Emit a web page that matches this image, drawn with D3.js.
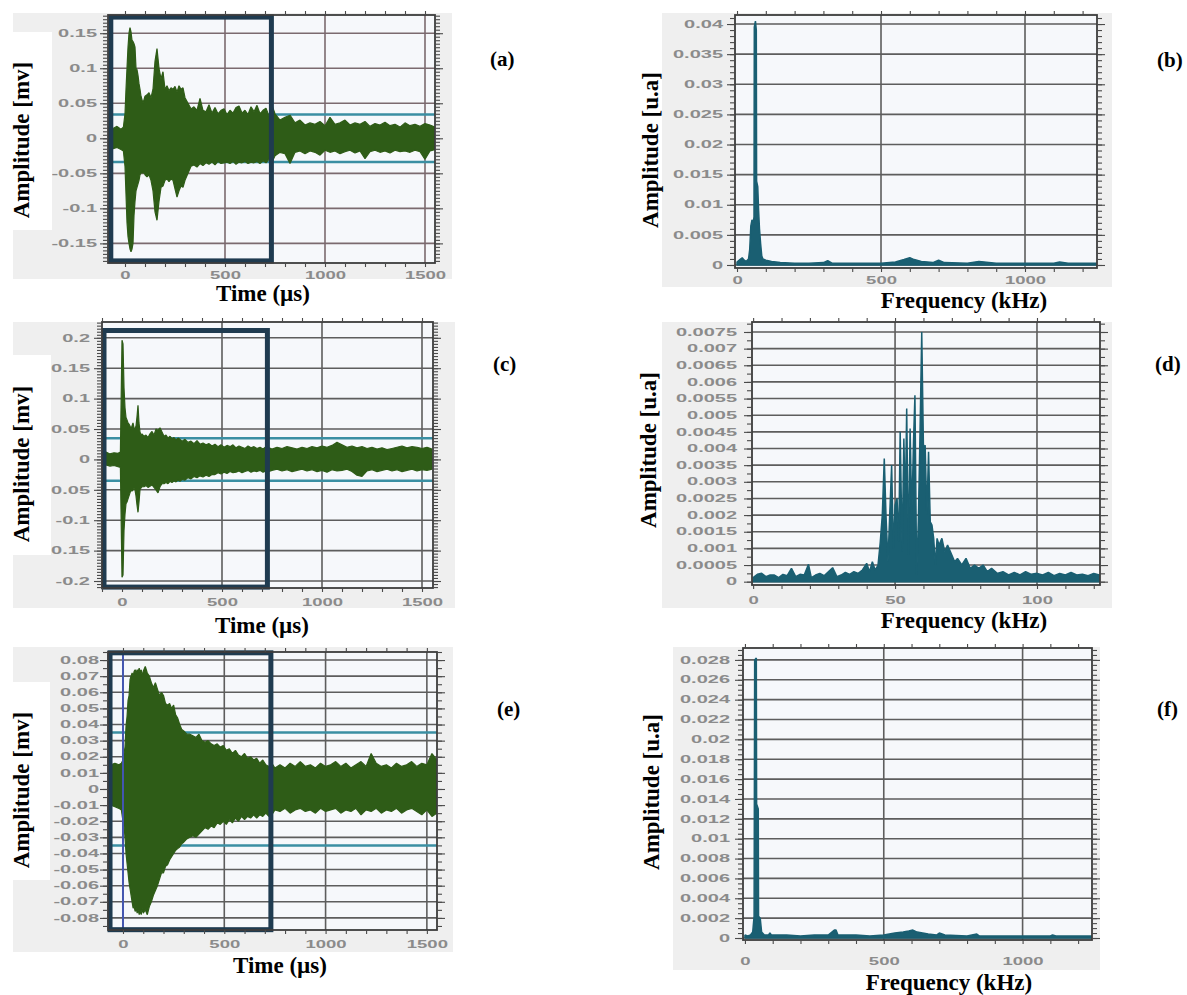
<!DOCTYPE html>
<html>
<head>
<meta charset="utf-8">
<script src="https://cdn.jsdelivr.net/npm/d3@7"></script>
<style>
  html, body { margin: 0; padding: 0; background: #fff; }
  svg { display: block; }
  .title, .tag { font-family: "Liberation Serif", "Times New Roman", serif; font-weight: bold; fill: #000; }
</style>
</head>
<body>
<svg id="fig" width="1187" height="995"></svg>
<script>
// ---- time axis shared by the three waveforms (µs)
const timeUs = [
  -100, -80, -60, -40, -20, -8, 0,
  5, 10, 15, 20, 25, 30, 35, 40, 45, 50,
  55, 60, 65, 70, 75, 80, 85, 90, 95, 100,
  110, 120, 130, 140, 150, 160, 170, 180, 190, 200,
  210, 220, 230, 240, 250, 260, 270, 280, 290, 300,
  315, 330, 345, 360, 375, 390, 405, 420, 435, 450,
  465, 480, 495, 510, 525, 540, 555, 570, 585, 600,
  615, 630, 645, 660, 675, 690, 705, 720, 735,
  750, 775, 800, 825, 850, 875, 900, 925, 950, 975, 1000,
  1025, 1050, 1075, 1100, 1125, 1150, 1175, 1200, 1225, 1250, 1275,
  1300, 1325, 1350, 1375, 1400, 1425, 1450, 1475, 1500, 1525, 1550
];

// (a) waveform envelope, mV
const sigAHigh = [
  0.015, 0.016, 0.014, 0.017, 0.013, 0.016, 0.035,
  0.07, 0.1, 0.13, 0.15, 0.158, 0.152, 0.14, 0.138, 0.135, 0.13,
  0.1, 0.098, 0.09, 0.078, 0.07, 0.06, 0.055, 0.05, 0.055, 0.06,
  0.062, 0.065, 0.058, 0.07, 0.11, 0.128, 0.1, 0.085, 0.095, 0.07,
  0.075, 0.068, 0.072, 0.07, 0.074, 0.066, 0.075, 0.07, 0.072, 0.058,
  0.05, 0.042, 0.045, 0.04, 0.057, 0.04, 0.038, 0.048, 0.036, 0.044,
  0.035, 0.04, 0.042, 0.034, 0.04, 0.036, 0.044, 0.046, 0.036, 0.04,
  0.034, 0.045, 0.038, 0.047, 0.035, 0.04, 0.043, 0.032, 0.047,
  0.035, 0.026, 0.03, 0.033, 0.022, 0.026, 0.019, 0.022, 0.02, 0.024, 0.018,
  0.03, 0.02, 0.022, 0.026, 0.019, 0.022, 0.02, 0.024, 0.017, 0.021, 0.019,
  0.023, 0.018, 0.02, 0.016, 0.022, 0.018, 0.02, 0.017, 0.021, 0.019, 0.016
];
const sigALow = [
  -0.012, -0.014, -0.015, -0.013, -0.016, -0.018, -0.04,
  -0.08, -0.12, -0.14, -0.15, -0.158, -0.162, -0.158, -0.15, -0.11, -0.09,
  -0.075, -0.07, -0.065, -0.06, -0.052, -0.05, -0.048, -0.05, -0.048, -0.052,
  -0.055, -0.052, -0.06, -0.075, -0.105, -0.117, -0.09, -0.07, -0.068, -0.06,
  -0.058, -0.062, -0.058, -0.06, -0.072, -0.084, -0.075, -0.068, -0.07, -0.06,
  -0.05, -0.04, -0.038, -0.041, -0.036, -0.039, -0.035, -0.037, -0.034, -0.038,
  -0.033, -0.036, -0.035, -0.034, -0.036, -0.033, -0.037, -0.034, -0.035, -0.033,
  -0.036, -0.034, -0.035, -0.033, -0.036, -0.032, -0.035, -0.03, -0.034,
  -0.025, -0.02, -0.022, -0.036, -0.02, -0.018, -0.022, -0.018, -0.02, -0.024, -0.017,
  -0.02, -0.018, -0.022, -0.019, -0.017, -0.021, -0.018, -0.029, -0.019, -0.017, -0.02,
  -0.018, -0.021, -0.017, -0.019, -0.018, -0.02, -0.017, -0.019, -0.03, -0.018, -0.016
];

// (c) waveform envelope, mV
const sigCHigh = [
  0.01, 0.012, 0.009, 0.011, 0.01, 0.012, 0.196,
  0.19, 0.118, 0.085, 0.069, 0.065, 0.06, 0.058, 0.055, 0.05, 0.055,
  0.06, 0.052, 0.05, 0.055, 0.07, 0.089, 0.06, 0.045, 0.04, 0.042,
  0.038, 0.04, 0.036, 0.042, 0.046, 0.04, 0.05, 0.048, 0.052, 0.045,
  0.038, 0.04, 0.035, 0.038, 0.034, 0.036, 0.032, 0.035, 0.033, 0.03,
  0.033, 0.028, 0.03, 0.026, 0.031, 0.025, 0.027, 0.024, 0.026, 0.022,
  0.025, 0.021, 0.024, 0.02, 0.023, 0.021, 0.024, 0.019, 0.022, 0.02,
  0.018, 0.022, 0.019, 0.021, 0.018, 0.02, 0.017, 0.021, 0.019,
  0.017, 0.02, 0.018, 0.021, 0.019, 0.017, 0.02, 0.018, 0.021, 0.019, 0.022,
  0.02, 0.023, 0.028, 0.024, 0.02, 0.022, 0.019, 0.021, 0.018, 0.02, 0.017,
  0.019, 0.016, 0.018, 0.02, 0.022, 0.019, 0.021, 0.02, 0.018, 0.02, 0.017
];
const sigCLow = [
  -0.01, -0.009, -0.011, -0.01, -0.012, -0.013, -0.194,
  -0.19, -0.117, -0.09, -0.073, -0.07, -0.065, -0.06, -0.055, -0.05, -0.052,
  -0.05, -0.048, -0.05, -0.06, -0.075, -0.087, -0.07, -0.05, -0.047, -0.045,
  -0.045, -0.043, -0.046, -0.044, -0.042, -0.046, -0.05, -0.055, -0.045, -0.04,
  -0.04, -0.038, -0.04, -0.036, -0.038, -0.035, -0.037, -0.034, -0.036, -0.033,
  -0.034, -0.03, -0.032, -0.028, -0.03, -0.027, -0.029, -0.026, -0.028, -0.025,
  -0.025, -0.022, -0.024, -0.021, -0.023, -0.02, -0.022, -0.021, -0.019, -0.022,
  -0.02, -0.018, -0.021, -0.019, -0.02, -0.018, -0.021, -0.019, -0.02,
  -0.018, -0.016, -0.019, -0.017, -0.02, -0.018, -0.016, -0.019, -0.017, -0.02, -0.018,
  -0.021, -0.017, -0.019, -0.018, -0.016, -0.02, -0.026, -0.028, -0.019, -0.017, -0.02,
  -0.018, -0.016, -0.019, -0.017, -0.02, -0.018, -0.016, -0.019, -0.017, -0.018, -0.016
];

// (e) waveform envelope, mV
const sigEHigh = [
  0.015, 0.016, 0.015, 0.016, 0.015, 0.016, 0.018,
  0.022, 0.026, 0.039, 0.045, 0.055, 0.058, 0.068, 0.07, 0.072, 0.07,
  0.073, 0.074, 0.072, 0.074, 0.073, 0.075, 0.072, 0.074, 0.07, 0.073,
  0.076, 0.072, 0.07, 0.066, 0.063, 0.066, 0.062, 0.058, 0.06, 0.058,
  0.053, 0.052, 0.053, 0.05, 0.052, 0.046, 0.044, 0.04, 0.037, 0.036,
  0.034, 0.034, 0.033, 0.032, 0.034, 0.03, 0.029, 0.03, 0.028, 0.027,
  0.028, 0.026, 0.027, 0.024, 0.025, 0.022, 0.024, 0.021, 0.02, 0.022,
  0.019, 0.02, 0.018, 0.019, 0.016, 0.018, 0.015, 0.014, 0.016,
  0.013, 0.015, 0.013, 0.016, 0.014, 0.017, 0.014, 0.015, 0.013, 0.016, 0.014,
  0.015, 0.017, 0.014, 0.016, 0.013, 0.015, 0.017, 0.014, 0.022, 0.016, 0.014,
  0.015, 0.013, 0.016, 0.014, 0.015, 0.017, 0.014, 0.016, 0.015, 0.022, 0.018
];
const sigELow = [
  -0.011, -0.012, -0.01, -0.011, -0.012, -0.013, -0.02,
  -0.023, -0.03, -0.04, -0.046, -0.052, -0.058, -0.062, -0.066, -0.07, -0.074,
  -0.073, -0.076, -0.074, -0.077, -0.075, -0.078, -0.076, -0.078, -0.074, -0.077,
  -0.075, -0.078, -0.073, -0.07, -0.066, -0.063, -0.06, -0.056, -0.052, -0.052,
  -0.048, -0.047, -0.044, -0.042, -0.04, -0.038, -0.037, -0.036, -0.034, -0.033,
  -0.031, -0.03, -0.029, -0.03, -0.028, -0.026, -0.024, -0.025, -0.023, -0.024,
  -0.021, -0.022, -0.02, -0.022, -0.019, -0.021, -0.018, -0.02, -0.017, -0.019,
  -0.017, -0.018, -0.016, -0.018, -0.016, -0.017, -0.015, -0.017, -0.016,
  -0.013, -0.014, -0.012, -0.015, -0.013, -0.012, -0.014, -0.013, -0.015, -0.012, -0.014,
  -0.013, -0.012, -0.015, -0.013, -0.014, -0.012, -0.016, -0.013, -0.014, -0.012, -0.015,
  -0.013, -0.014, -0.012, -0.015, -0.013, -0.012, -0.014, -0.016, -0.013, -0.017, -0.015
];

// (b) spectrum
const freqB = [
  0, 10, 18, 25, 32, 40, 44, 48, 52, 56,
  59, 60, 64, 67, 68, 72, 75, 78, 82, 86,
  90, 100, 120, 150, 200, 250, 300, 315, 330, 400,
  450, 500, 550, 580, 600, 615, 640, 680, 700, 720,
  800, 840, 900, 1000, 1050, 1100, 1120, 1150, 1200, 1250
];
const ampB = [
  0.0005, 0.0009, 0.0012, 0.0008, 0.0006, 0.001, 0.0025, 0.0065, 0.0075, 0.0068,
  0.008, 0.0395, 0.0405, 0.039, 0.0139, 0.013, 0.009, 0.006, 0.0035, 0.0015,
  0.001, 0.0008, 0.0006, 0.0004, 0.0003, 0.0003, 0.0004, 0.0007, 0.0003, 0.0003,
  0.0003, 0.0003, 0.0005, 0.0009, 0.0012, 0.0009, 0.0006, 0.0004, 0.0008, 0.0004,
  0.0003, 0.0006, 0.0003, 0.0003, 0.0003, 0.0003, 0.0005, 0.0003, 0.0003, 0.0003
];

// (d) spectrum
const freqD = [
  0, 1.5, 3, 4.5, 6, 7.5, 9, 10.5, 12, 13.5,
  15, 16.5, 18, 19.5, 20.5, 22, 23.5, 25, 26.5, 28,
  29.5, 31, 32.5, 34, 35.5, 37, 38.5, 40, 41, 42,
  43, 44, 44.8, 45.5, 46.2, 46.8, 47.5, 48.2, 48.8, 49.4,
  50, 50.7, 51.3, 51.8, 52.5, 53.1, 53.6, 54.1, 54.7, 55.3,
  55.9, 56.5, 57, 57.6, 58.2, 58.8, 59.4, 60, 60.6, 61.2,
  61.8, 62.4, 63, 63.6, 64.2, 64.8, 65.5, 66.5, 67.5, 68.5,
  70, 71, 72, 73.5, 75, 76.5, 78, 79.5, 81, 82.5,
  84, 86, 88, 90, 92, 94, 96, 98, 100, 102,
  104, 106, 108, 110, 112, 114, 116, 118, 120, 122
];
const ampD = [
  0.00012, 0.00022, 0.00025, 0.00015, 0.0002, 0.0002, 0.00012, 0.00022, 0.00018, 0.0004,
  0.00015, 0.00022, 0.0002, 0.00052, 0.00012, 0.0002, 0.00025, 0.00018, 0.0003, 0.00042,
  0.00015, 0.0002, 0.00028, 0.00022, 0.0003, 0.00025, 0.00035, 0.00055, 0.0003, 0.0006,
  0.00035, 0.0005, 0.0012, 0.002, 0.0037, 0.002, 0.0006, 0.0022, 0.0035, 0.001,
  0.0023, 0.0025, 0.0012, 0.0045, 0.0009, 0.0043, 0.0022, 0.0052, 0.0008, 0.0046,
  0.002, 0.0042, 0.0056, 0.0002, 0.0018, 0.0045, 0.0075, 0.004, 0.0041, 0.002,
  0.0039, 0.0018, 0.0017, 0.0013, 0.0005, 0.0013, 0.0011, 0.0013, 0.0009, 0.0011,
  0.0008, 0.0006, 0.0007, 0.0005, 0.0007, 0.0004, 0.0005, 0.0004, 0.0005, 0.0003,
  0.0004, 0.00025, 0.0003, 0.0002, 0.00028, 0.0002, 0.0003, 0.00022, 0.00025, 0.0002,
  0.00028, 0.00018, 0.00025, 0.0002, 0.00028, 0.0002, 0.00022, 0.00018, 0.00025, 0.0002
];

// (f) spectrum
const freqF = [
  0, 10, 20, 28, 33, 35, 41, 42, 48, 49,
  55, 60, 70, 85, 90, 95, 120, 150, 200, 250,
  300, 322, 328, 335, 400, 450, 500, 540, 570, 590,
  605, 620, 640, 660, 690, 700, 720, 800, 835, 845,
  900, 1000, 1100, 1108, 1120, 1200, 1250
];
const ampF = [
  0.0003, 0.0002, 0.0003, 0.0006, 0.0022, 0.028, 0.0282, 0.0135, 0.013, 0.0022,
  0.002, 0.0006, 0.0003, 0.0003, 0.0005, 0.0003, 0.0003, 0.0003, 0.0002, 0.0003,
  0.0003, 0.0008, 0.0008, 0.0003, 0.0003, 0.0002, 0.0003, 0.0005, 0.0006, 0.0007,
  0.0008, 0.0006, 0.0005, 0.0004, 0.0003, 0.0005, 0.0003, 0.0002, 0.0004, 0.0002,
  0.0002, 0.0002, 0.0002, 0.0003, 0.0002, 0.0002, 0.0002
];

// tick labels
const timeTicks = [0, 500, 1000, 1500];
const freqTicks = [0, 500, 1000];
const freqTicksD = [0, 50, 100];
const ampTicksA = [-0.15, -0.1, -0.05, 0, 0.05, 0.1, 0.15];
const ampTicksC = [-0.2, -0.15, -0.1, -0.05, 0, 0.05, 0.1, 0.15, 0.2];
const ampTicksE = [-0.08, -0.07, -0.06, -0.05, -0.04, -0.03, -0.02, -0.01, 0,
  0.01, 0.02, 0.03, 0.04, 0.05, 0.06, 0.07, 0.08];
const ampTicksB = [0, 0.005, 0.01, 0.015, 0.02, 0.025, 0.03, 0.035, 0.04];
const ampTicksD = [0, 0.0005, 0.001, 0.0015, 0.002, 0.0025, 0.003, 0.0035, 0.004,
  0.0045, 0.005, 0.0055, 0.006, 0.0065, 0.007, 0.0075];
const ampTicksF = [0, 0.002, 0.004, 0.006, 0.008, 0.01, 0.012, 0.014, 0.016,
  0.018, 0.02, 0.022, 0.024, 0.026, 0.028];

const GREEN = '#2e5c17';
const TEAL = '#1a5f72';
const THRESH = '#3a8fa3';
const BOX = '#1f3b50';
const FRAME = '#3c3c3c';
const GRID = '#5d5d5d';

const svg = d3.select('#fig');

const panels = [
  { id: 'a', kind: 'time', hi: sigAHigh, lo: sigALow,
    left: 108, right: 435, top: 15, bottom: 263,
    xDom: [-85, 1550], yDom: [-0.178, 0.176],
    yTicks: ampTicksA, yMinorStep: 0.005, xTicks: timeTicks, xMinorStep: 100, vGrid: [500, 1000, 1500],
    box: [-71, 732, -0.175, 0.173], thresh: 0.034, grid: '#7b6a6f',
    bg: [13, 13, 439, 266], cover: [13, 32, 39, 198],
    yGap: 11, xLabelY: 279, yTitle: 'Amplitude [mv]', yTitlePos: [29, 140],
    xTitle: 'Time (µs)', xTitlePos: [263, 301], tag: '(a)', tagPos: [490, 66] },
  { id: 'b', kind: 'freq', f: freqB, a: ampB,
    left: 735, right: 1097, top: 15, bottom: 268,
    xDom: [-7, 1250], yDom: [-0.0005, 0.0415],
    yTicks: ampTicksB, yMinorStep: 0.001, xTicks: freqTicks, xMinorStep: 100, vGrid: [500, 1000],
    grid: GRID, bg: [662, 13, 450, 274],
    yGap: 12, xLabelY: 284, yTitle: 'Amplitude [u.a]', yTitlePos: [658, 150],
    xTitle: 'Frequency (kHz)', xTitlePos: [964, 308], tag: '(b)', tagPos: [1157, 67] },
  { id: 'c', kind: 'time', hi: sigCHigh, lo: sigCLow,
    left: 102, right: 433, top: 322, bottom: 588,
    xDom: [-100, 1555], yDom: [-0.2115, 0.226],
    yTicks: ampTicksC, yMinorStep: 0.005, xTicks: timeTicks, xMinorStep: 100, vGrid: [500, 1000, 1500],
    box: [-90, 727, -0.21, 0.212], thresh: 0.035, grid: GRID,
    bg: [13, 322, 442, 286], cover: [13, 355, 38, 200],
    yGap: 12, xLabelY: 606, yTitle: 'Amplitude [mv]', yTitlePos: [29, 464],
    xTitle: 'Time (µs)', xTitlePos: [262, 633], tag: '(c)', tagPos: [493, 371] },
  { id: 'd', kind: 'freq', f: freqD, a: ampD,
    left: 752, right: 1100, top: 322, bottom: 585,
    xDom: [-0.4, 122.2], yDom: [-0.0001, 0.0078],
    yTicks: ampTicksD, yMinorStep: 0.00025, xTicks: freqTicksD, xMinorStep: 10, vGrid: [50, 100],
    grid: GRID, bg: [662, 322, 450, 286],
    yGap: 15, xLabelY: 604, yTitle: 'Amplitude [u.a]', yTitlePos: [656, 450],
    xTitle: 'Frequency (kHz)', xTitlePos: [964, 628], tag: '(d)', tagPos: [1155, 371] },
  { id: 'e', kind: 'time', hi: sigEHigh, lo: sigELow,
    left: 108, right: 437, top: 652, bottom: 930,
    xDom: [-74, 1550], yDom: [-0.0875, 0.085],
    yTicks: ampTicksE, yMinorStep: 0.005, xTicks: timeTicks, xMinorStep: 100, vGrid: [500, 1000, 1500],
    box: [-64, 730, -0.0873, 0.0845], thresh: 0.035, marker: 0, grid: GRID,
    bg: [13, 647, 440, 305], cover: [13, 682, 37, 198],
    yGap: 9, xLabelY: 948, yTitle: 'Amplitude [mv]', yTitlePos: [29, 790],
    xTitle: 'Time (µs)', xTitlePos: [280, 973], tag: '(e)', tagPos: [497, 716] },
  { id: 'f', kind: 'freq', f: freqF, a: ampF,
    left: 743, right: 1092, top: 648, bottom: 940,
    xDom: [-7, 1250], yDom: [-0.0002, 0.0292],
    yTicks: ampTicksF, yMinorStep: 0.0005, xTicks: freqTicks, xMinorStep: 100, vGrid: [500, 1000],
    grid: GRID, bg: [673, 647, 427, 323],
    yGap: 13, xLabelY: 965, yTitle: 'Amplitude [u.a]', yTitlePos: [659, 792],
    xTitle: 'Frequency (kHz)', xTitlePos: [949, 990], tag: '(f)', tagPos: [1157, 716] }
];

panels.forEach(drawPanel);

function steps(dom, step) {
  const lo = Math.ceil(dom[0] / step - 1e-9), hi = Math.floor(dom[1] / step + 1e-9);
  return d3.range(lo, hi + 1).map(k => +(k * step).toFixed(6));
}

function addAxis(g, axis, tx, ty) {
  const a = g.append('g').attr('transform', `translate(${tx},${ty})`).call(axis);
  a.select('.domain').remove();
  a.selectAll('.tick line').attr('stroke', '#4a4a4a').attr('stroke-width', 1.1);
  a.selectAll('.tick text')
    .attr('fill', '#8b8b8b')
    .attr('font-family', '"Liberation Sans", Arial, sans-serif')
    .attr('font-weight', 'bold')
    .attr('font-size', 10);
  return a;
}

function drawPanel(p) {
  const x = d3.scaleLinear().domain(p.xDom).range([p.left, p.right]);
  const y = d3.scaleLinear().domain(p.yDom).range([p.bottom, p.top]);
  const w = p.right - p.left, h = p.bottom - p.top;
  const g = svg.append('g').attr('class', 'panel-' + p.id);

  // scanned figure backdrop + plot area
  g.append('rect').attr('x', p.bg[0]).attr('y', p.bg[1]).attr('width', p.bg[2]).attr('height', p.bg[3]).attr('fill', '#efefef');
  g.append('rect').attr('x', p.left).attr('y', p.top).attr('width', w).attr('height', h).attr('fill', '#f6f8fb');

  // grid
  g.append('g').selectAll('line').data(p.yTicks).join('line')
    .attr('x1', p.left).attr('x2', p.right)
    .attr('y1', d => y(d)).attr('y2', d => y(d))
    .attr('stroke', p.grid).attr('stroke-width', 1.6);
  g.append('g').selectAll('line').data(p.vGrid).join('line')
    .attr('x1', d => x(d)).attr('x2', d => x(d))
    .attr('y1', p.top).attr('y2', p.bottom)
    .attr('stroke', p.grid).attr('stroke-width', 1.6);

  svg.append('clipPath').attr('id', 'clip-' + p.id).append('rect')
    .attr('x', p.left).attr('y', p.top).attr('width', w).attr('height', h);
  const plot = g.append('g').attr('clip-path', `url(#clip-${p.id})`);

  if (p.thresh) {
    plot.append('g').selectAll('line').data([p.thresh, -p.thresh]).join('line')
      .attr('x1', p.left).attr('x2', p.right)
      .attr('y1', d => y(d)).attr('y2', d => y(d))
      .attr('stroke', THRESH).attr('stroke-width', 2.5);
  }

  if (p.kind === 'time') {
    const rows = timeUs.map((t, i) => ({ t: t, hi: p.hi[i], lo: p.lo[i] }));
    const area = d3.area().x(d => x(d.t)).y0(d => y(d.lo)).y1(d => y(d.hi));
    plot.append('path').datum(rows).attr('d', area)
      .attr('fill', GREEN).attr('stroke', GREEN).attr('stroke-width', 1.2).attr('stroke-linejoin', 'bevel');
  } else {
    const rows = p.f.map((f, i) => ({ f: f, a: p.a[i] }));
    const area = d3.area().x(d => x(d.f)).y0(y(0)).y1(d => y(d.a));
    plot.append('path').datum(rows).attr('d', area)
      .attr('fill', TEAL).attr('stroke', TEAL).attr('stroke-width', 1.5).attr('stroke-linejoin', 'bevel');
  }

  if (p.marker !== undefined) {
    plot.append('line').attr('x1', x(p.marker)).attr('x2', x(p.marker))
      .attr('y1', p.top).attr('y2', p.bottom)
      .attr('stroke', '#4356b0').attr('stroke-width', 2);
  }

  if (p.box) {
    g.append('rect')
      .attr('x', x(p.box[0])).attr('y', y(p.box[3]))
      .attr('width', x(p.box[1]) - x(p.box[0])).attr('height', y(p.box[2]) - y(p.box[3]))
      .attr('fill', 'none').attr('stroke', BOX).attr('stroke-width', 5);
  }

  // frame
  g.append('rect').attr('x', p.left).attr('y', p.top).attr('width', w).attr('height', h)
    .attr('fill', 'none').attr('stroke', FRAME).attr('stroke-width', 1.8);

  // ticks
  const yMinor = steps(p.yDom, p.yMinorStep);
  const xMinor = steps(p.xDom, p.xMinorStep);
  addAxis(g, d3.axisLeft(y).tickValues(yMinor).tickSize(5).tickFormat(''), p.left, 0);
  addAxis(g, d3.axisRight(y).tickValues(yMinor).tickSize(5).tickFormat(''), p.right, 0);
  addAxis(g, d3.axisRight(y).tickValues(p.yTicks).tickSize(8).tickFormat(''), p.right, 0);
  addAxis(g, d3.axisTop(x).tickValues(xMinor).tickSize(4).tickFormat(''), 0, p.top);
  addAxis(g, d3.axisBottom(x).tickValues(xMinor).tickSize(4).tickFormat(''), 0, p.bottom);

  const yl = addAxis(g, d3.axisLeft(y).tickValues(p.yTicks).tickSize(8)
    .tickPadding(p.yGap - 8).tickFormat(d => String(d)), p.left, 0);
  yl.selectAll('.tick text').attr('transform', 'scale(2,1)').attr('x', -p.yGap / 2);

  const xl = addAxis(g, d3.axisBottom(x).tickValues(p.xTicks).tickSize(0)
    .tickPadding(p.xLabelY - p.bottom - 7.1).tickFormat(d => String(d)), 0, p.bottom);
  xl.selectAll('.tick text').attr('transform', 'scale(1.85,1)');

  // white patch that sits behind the pasted y title
  if (p.cover) {
    g.append('rect').attr('x', p.cover[0]).attr('y', p.cover[1])
      .attr('width', p.cover[2]).attr('height', p.cover[3]).attr('fill', '#fff');
  }

  g.append('text').attr('class', 'title')
    .attr('transform', `translate(${p.yTitlePos[0]},${p.yTitlePos[1]}) rotate(-90)`)
    .attr('text-anchor', 'middle').attr('font-size', 23)
    .text(p.yTitle);
  g.append('text').attr('class', 'title')
    .attr('x', p.xTitlePos[0]).attr('y', p.xTitlePos[1])
    .attr('text-anchor', 'middle').attr('font-size', 23)
    .text(p.xTitle);
  g.append('text').attr('class', 'tag')
    .attr('x', p.tagPos[0]).attr('y', p.tagPos[1])
    .attr('font-size', 21)
    .text(p.tag);
}
</script>
</body>
</html>
